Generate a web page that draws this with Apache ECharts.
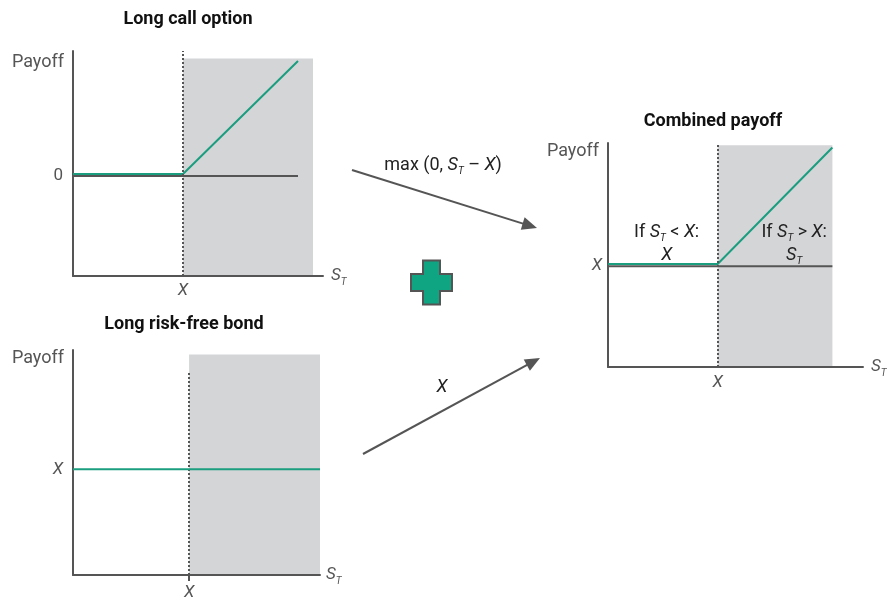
<!DOCTYPE html>
<html><head><meta charset="utf-8">
<script src="https://cdn.jsdelivr.net/npm/echarts@6/dist/echarts.min.js"></script>
<style>html,body{margin:0;padding:0;background:#fff}#c{width:888px;height:601px}</style>
</head><body><div id="c"></div>
<script>
// ---------- data ----------
const titles = ['Long call option', 'Long risk-free bond', 'Combined payoff'];

// Panel 1: long call option
const callStrike = 44;
const callS = [0, 44, 90];
const callPayoff = [0.8, 0.8, 46];
const callZeroS = [0, 90];
const callZero = [0, 0];
const callShadeX = [44, 96];
const callShadeY = [-40, 47];

// Panel 2: long risk-free bond
const bondStrike = 47;
const bondS = [0, 100];
const bondPayoff = [47, 47];
const bondShadeX = [47, 100];
const bondShadeY = [0, 98];
const bondDotTop = 90;

// Panel 3: combined payoff
const combStrike = 43;
const combS = [0, 43, 88];
const combPayoff = [46, 46, 98];
const combXLineS = [0, 88];
const combXLine = [45, 45];
const combShadeX = [43, 88];
const combShadeY = [0, 99];
const combNoteLeft = [23, 55];
const combNoteRight = [73, 55];

// ---------- styles ----------
const FONT = 'Roboto, "Noto Sans", sans-serif';
const FS = 17;
const GREEN = '#1a9e7f';
const GRAY = '#555555';
const SHADE = '#d4d5d7';
const DARK = '#222222';

function richSet(color, size) {
  size = size || FS;
  return {
    s: {fontStyle: 'italic', fontSize: size, lineHeight: 23, color: color, fontFamily: FONT},
    t: {fontStyle: 'italic', fontSize: 10, lineHeight: 8, verticalAlign: 'bottom', color: color, fontFamily: FONT},
    x: {fontStyle: 'italic', fontSize: size, lineHeight: 23, color: color, fontFamily: FONT}
  };
}
const ST = '{s|S}{t|T}';

function pairs(xs, ys) { return xs.map((v, i) => [v, ys[i]]); }

function xAxisCfg(idx, min, max, strike, showTick, gap, labelMargin) {
  return {
    type: 'value', gridIndex: idx, min: min, max: max, z: 3,
    axisLine: {onZero: false, lineStyle: {color: GRAY, width: 2}},
    splitLine: {show: false},
    axisTick: showTick ? {show: true, customValues: [strike], length: 6, lineStyle: {color: GRAY, width: 2}} : {show: false},
    axisLabel: {customValues: [strike], formatter: () => 'X', margin: labelMargin,
      color: GRAY, fontSize: FS, fontStyle: 'italic', fontFamily: FONT},
    name: ST, nameLocation: 'end', nameGap: gap,
    nameTextStyle: {rich: richSet(GRAY), verticalAlign: 'middle', align: 'left'}
  };
}
function yAxisCfg(idx, min, max, labelVal, labelText, italic, nameGap, labelMargin) {
  return {
    type: 'value', gridIndex: idx, min: min, max: max, z: 3,
    axisLine: {onZero: false, lineStyle: {color: GRAY, width: 2}},
    splitLine: {show: false},
    axisTick: {show: false},
    axisLabel: {customValues: [labelVal], formatter: () => labelText, margin: labelMargin,
      color: GRAY, fontSize: FS, fontStyle: italic ? 'italic' : 'normal', fontFamily: FONT},
    name: 'Payoff', nameLocation: 'end', nameGap: nameGap,
    nameTextStyle: {color: GRAY, fontSize: 18, fontFamily: FONT, align: 'right', verticalAlign: 'middle', padding: [0, 9, 0, 0]}
  };
}
const dotted = {type: [2, 2], color: GRAY, width: 2};

// ---------- graphic helpers ----------
function arrow(x1, y1, x2, y2) {
  const dx = x2 - x1, dy = y2 - y1, L = Math.hypot(dx, dy);
  const ux = dx / L, uy = dy / L, hl = 15, hw = 6.5;
  const bx = x2 - ux * hl, by = y2 - uy * hl;
  return [
    {type: 'line', shape: {x1: x1, y1: y1, x2: bx + ux * 2, y2: by + uy * 2}, style: {stroke: GRAY, lineWidth: 2}},
    {type: 'polygon', shape: {points: [[x2, y2], [bx - uy * hw, by + ux * hw], [bx + uy * hw, by - ux * hw]]}, style: {fill: GRAY}}
  ];
}
function plus(cx, cy, w, h, a) {
  return {type: 'polygon', shape: {points: [
    [cx - a, cy - h], [cx + a, cy - h], [cx + a, cy - a], [cx + w, cy - a], [cx + w, cy + a], [cx + a, cy + a],
    [cx + a, cy + h], [cx - a, cy + h], [cx - a, cy + a], [cx - w, cy + a], [cx - w, cy - a], [cx - a, cy - a]]},
    style: {fill: '#0fa583', stroke: GRAY, lineWidth: 2}};
}
function titleText(text, x, y) {
  return {type: 'text', x: x, y: y, style: {text: text, fill: '#111', fontSize: 18, fontWeight: 'bold',
    fontFamily: FONT, align: 'center', verticalAlign: 'middle'}};
}

const chart = echarts.init(document.getElementById('c'), null, {renderer: 'canvas'});
chart.setOption({
  animation: false,
  backgroundColor: '#fff',
  grid: [
    {left: 73, top: 51, width: 250, height: 225},
    {left: 73, top: 350, width: 247, height: 226},
    {left: 608, top: 143, width: 255, height: 224}
  ],
  xAxis: [
    xAxisCfg(0, 0, 100, callStrike, false, 8, 6),
    xAxisCfg(1, 0, 100, bondStrike, true, 6, 9),
    xAxisCfg(2, 0, 100, combStrike, false, 8, 7)
  ],
  yAxis: [
    yAxisCfg(0, -40, 50, 0, '0', false, -11, 10),
    yAxisCfg(1, 0, 100, bondPayoff[0], 'X', true, -8, 10),
    yAxisCfg(2, 0, 100, combXLine[0], 'X', true, -8, 6)
  ],
  series: [
    // panel 1
    {type: 'line', xAxisIndex: 0, yAxisIndex: 0, data: pairs(callZeroS, callZero), symbol: 'none', silent: true,
      lineStyle: {color: GRAY, width: 2}, z: 2,
      markArea: {silent: true, itemStyle: {color: SHADE}, data: [[{coord: [callShadeX[0], callShadeY[0]]}, {coord: [callShadeX[1], callShadeY[1]]}]]},
      markLine: {silent: true, symbol: 'none', label: {show: false}, lineStyle: dotted, data: [{xAxis: callStrike}]}},
    {type: 'line', xAxisIndex: 0, yAxisIndex: 0, data: pairs(callS, callPayoff), symbol: 'none', silent: true,
      lineStyle: {color: GREEN, width: 2}, z: 3},
    // panel 2
    {type: 'line', xAxisIndex: 1, yAxisIndex: 1, data: pairs(bondS, bondPayoff), symbol: 'none', silent: true,
      lineStyle: {color: GREEN, width: 2}, z: 3,
      markArea: {silent: true, itemStyle: {color: SHADE}, data: [[{coord: [bondShadeX[0], bondShadeY[0]]}, {coord: [bondShadeX[1], bondShadeY[1]]}]]},
      markLine: {silent: true, symbol: 'none', label: {show: false}, lineStyle: dotted, z: 2,
        data: [[{coord: [bondStrike, 0]}, {coord: [bondStrike, bondDotTop]}]]}},
    // panel 3
    {type: 'line', xAxisIndex: 2, yAxisIndex: 2, data: pairs(combXLineS, combXLine), symbol: 'none', silent: true,
      lineStyle: {color: GRAY, width: 2}, z: 2,
      markArea: {silent: true, itemStyle: {color: SHADE}, data: [[{coord: [combShadeX[0], combShadeY[0]]}, {coord: [combShadeX[1], combShadeY[1]]}]]},
      markLine: {silent: true, symbol: 'none', label: {show: false}, lineStyle: dotted, data: [{xAxis: combStrike}]}},
    {type: 'line', xAxisIndex: 2, yAxisIndex: 2, data: pairs(combS, combPayoff), symbol: 'none', silent: true,
      lineStyle: {color: GREEN, width: 2}, z: 3,
      markPoint: {silent: true, symbol: 'circle', symbolSize: 0,
        label: {show: true, position: 'inside', color: DARK, fontSize: 18, fontFamily: FONT, lineHeight: 23, align: 'center', rich: richSet(DARK, 18)},
        data: [
          {coord: combNoteLeft, label: {formatter: 'If ' + ST + ' < {x|X}:\n{x|X}'}},
          {coord: combNoteRight, label: {formatter: 'If ' + ST + ' > {x|X}:\n' + ST}}
        ]}}
  ],
  graphic: [
    titleText(titles[0], 188, 19),
    titleText(titles[1], 184, 324),
    titleText(titles[2], 713, 121),
    ...arrow(352, 170, 537, 228),
    ...arrow(363, 454, 540, 358),
    {type: 'text', x: 443, y: 165, style: {text: 'max (0, ' + ST + ' – {x|X})', rich: richSet(DARK, 18), fill: DARK,
      fontSize: 18, fontFamily: FONT, align: 'center', verticalAlign: 'middle'}},
    {type: 'text', x: 442, y: 387, style: {text: '{x|X}', rich: richSet(DARK, 18), fill: DARK,
      fontSize: 18, fontFamily: FONT, align: 'center', verticalAlign: 'middle'}},
    plus(431.5, 282.5, 20.5, 22, 8.5)
  ]
});
</script></body></html>
